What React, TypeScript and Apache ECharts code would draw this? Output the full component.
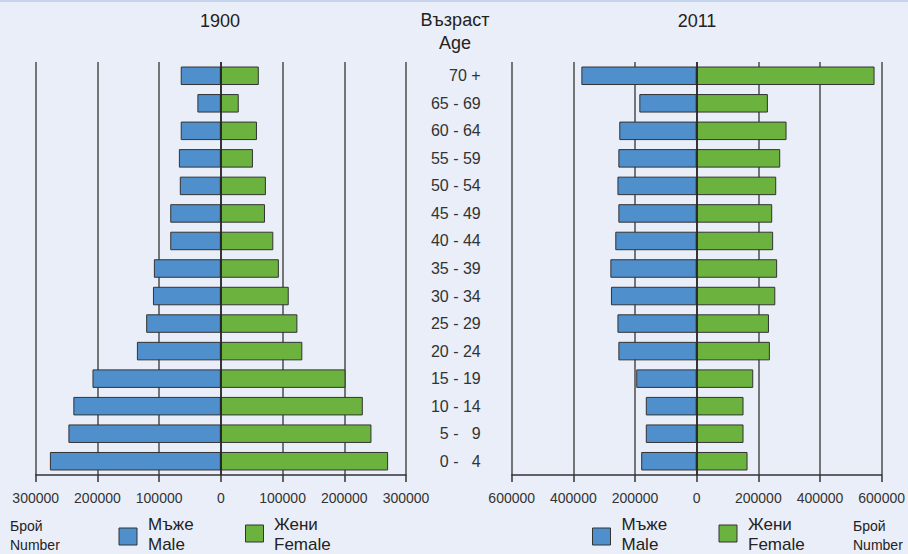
import React, { useEffect, useRef } from "react";
import * as echarts from "echarts";

const ageLabels = [
  "0 -   4", "5 -   9", "10 - 14", "15 - 19", "20 - 24", "25 - 29", "30 - 34", "35 - 39",
  "40 - 44", "45 - 49", "50 - 54", "55 - 59", "60 - 64", "65 - 69", "70 +",
];

const male1900 = [277000, 247000, 239000, 208000, 136000, 121000, 110000, 108500, 82000, 82000, 66500, 68000, 65000, 38000, 65000];
const female1900 = [271000, 244000, 230000, 202000, 132000, 124000, 110000, 94000, 85000, 71500, 73000, 52000, 58500, 29000, 61500];
const male2011 = [180000, 165000, 165000, 196000, 254000, 257000, 278000, 280000, 264000, 254000, 257000, 254000, 251000, 186000, 374000];
const female2011 = [165000, 152000, 152000, 183500, 237500, 234500, 255000, 261000, 248000, 245000, 258000, 271000, 291500, 231000, 577000];

const ticks1900 = { min: -300000, max: 300000, interval: 100000 };
const ticks2011 = { min: -600000, max: 600000, interval: 200000 };

const FONT = "Arial, 'Liberation Sans', sans-serif";
const BLUE = "#4f8fcc";
const GREEN = "#6cb23e";
const BG = "#eaeef8";

export default function App() {
  const ref = useRef<HTMLDivElement>(null);
  useEffect(() => {
    if (!ref.current) return;
    const chart = echarts.init(ref.current, undefined, { renderer: "svg" });
    const grid1 = { left: 35.7, top: 62, width: 370.3, height: 413 };
    const grid2 = { left: 511.7, top: 62, width: 370.3, height: 413 };
    const xAxisBase = (t: any) => ({
      type: "value",
      min: t.min,
      max: t.max,
      interval: t.interval,
      axisLine: { show: true, onZero: false, lineStyle: { color: "#333", width: 1.5 } },
      axisTick: { show: true, length: 7, lineStyle: { color: "#333", width: 1.5 } },
      axisLabel: {
        margin: 16,
        color: "#333",
        fontSize: 14,
        fontFamily: FONT,
        formatter: (v: number) => String(Math.abs(v)),
      },
      splitLine: { show: true, lineStyle: { color: "#4d4d4d", width: 1.5 } },
    });
    const barStyle = (c: string) => ({ color: c, borderColor: "#333", borderWidth: 1 });
    const zeroLine = {
      symbol: "none",
      silent: true,
      label: { show: false },
      lineStyle: { color: "#222", width: 1.5, type: "solid" },
      data: [{ xAxis: 0 }],
    };
    const txt = (x: number, y: number, text: string, fontSize: number, align = "left") => ({
      type: "text",
      x,
      y,
      style: { text, fontSize, fontFamily: FONT, fill: "#222", align, verticalAlign: "middle" },
    });
    const legendItems = (
      blueX: number, greenX: number, textBlueX: number, textGreenX: number
    ) => [
      { type: "rect", shape: { x: blueX, y: 528, width: 18, height: 17 }, style: { fill: BLUE, stroke: "#333", lineWidth: 1 } },
      { type: "rect", shape: { x: greenX, y: 525, width: 18, height: 17 }, style: { fill: GREEN, stroke: "#333", lineWidth: 1 } },
      txt(textBlueX, 524, "Мъже", 17),
      txt(textBlueX, 544.5, "Male", 17),
      txt(textGreenX, 524, "Жени", 17),
      txt(textGreenX, 544.5, "Female", 17),
    ];
    const numberLabel = (x: number) => [
      txt(x, 526, "Брой", 14),
      txt(x, 545, "Number", 14),
    ];
    chart.setOption({
      animation: false,
      backgroundColor: BG,
      grid: [grid1, grid2],
      xAxis: [
        { ...xAxisBase(ticks1900), gridIndex: 0 },
        { ...xAxisBase(ticks2011), gridIndex: 1 },
      ],
      yAxis: [
        {
          type: "category",
          gridIndex: 0,
          data: ageLabels,
          axisLine: { show: false },
          axisTick: { show: false },
          axisLabel: { show: false },
          splitLine: { show: false },
        },
        {
          type: "category",
          gridIndex: 1,
          data: ageLabels,
          axisLine: { show: false },
          axisTick: { show: false },
          axisLabel: { show: true, margin: 31, color: "#333", fontSize: 16, fontFamily: FONT },
          splitLine: { show: false },
        },
      ],
      series: [
        { type: "bar", name: "Мъже 1900", xAxisIndex: 0, yAxisIndex: 0, stack: "a", barWidth: 18.5, itemStyle: barStyle(BLUE), data: male1900.map((v) => -v) },
        { type: "bar", name: "Жени 1900", xAxisIndex: 0, yAxisIndex: 0, stack: "a", barWidth: 18.5, itemStyle: barStyle(GREEN), data: female1900, markLine: zeroLine },
        { type: "bar", name: "Мъже 2011", xAxisIndex: 1, yAxisIndex: 1, stack: "b", barWidth: 18.5, itemStyle: barStyle(BLUE), data: male2011.map((v) => -v) },
        { type: "bar", name: "Жени 2011", xAxisIndex: 1, yAxisIndex: 1, stack: "b", barWidth: 18.5, itemStyle: barStyle(GREEN), data: female2011, markLine: zeroLine },
      ],
      graphic: [
        { type: "line", shape: { x1: 0, y1: 1, x2: 908, y2: 1 }, style: { stroke: "#c4d4ec", lineWidth: 2 } },
        txt(220, 21, "1900", 18, "center"),
        txt(697, 21, "2011", 18, "center"),
        txt(455, 20, "Възраст", 18, "center"),
        txt(455, 43, "Age", 18, "center"),
        ...numberLabel(10),
        ...legendItems(119, 245.5, 148, 274),
        ...legendItems(592.5, 719, 621.5, 748),
        ...numberLabel(853),
      ],
    });
    return () => chart.dispose();
  }, []);
  return (
    <div
      ref={ref}
      style={{ position: "fixed", left: 0, top: 0, width: 908, height: 554 }}
    />
  );
}
